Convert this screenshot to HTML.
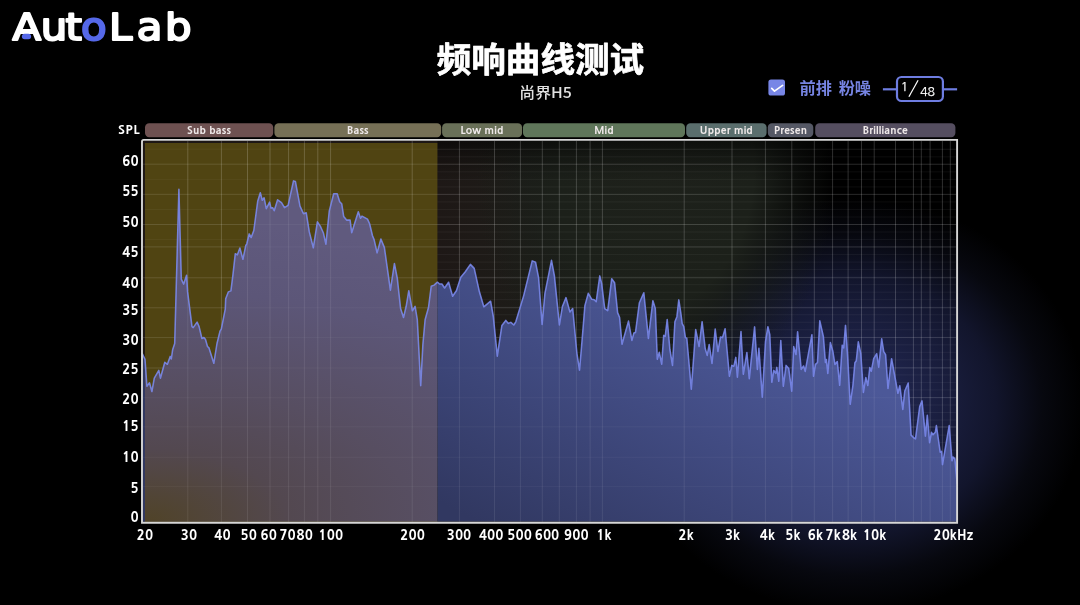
<!DOCTYPE html>
<html><head><meta charset="utf-8"><style>
html,body{margin:0;padding:0;}
body{width:1080px;height:605px;overflow:hidden;background:#000;position:relative;font-family:"Liberation Sans","Noto Sans CJK SC",sans-serif;}
svg{position:absolute;left:0;top:0;}
</style></head><body>
<svg width="1080" height="605" viewBox="0 0 1080 605">
<defs>
<radialGradient id="glow" cx="0" cy="0" r="1" gradientUnits="userSpaceOnUse" gradientTransform="translate(852 405) scale(232 208)">
<stop offset="0" stop-color="#242a5a"/>
<stop offset="0.45" stop-color="#181c3a"/>
<stop offset="0.62" stop-color="#12152c"/>
<stop offset="0.82" stop-color="#07080f"/>
<stop offset="1" stop-color="#000"/>
</radialGradient>
<linearGradient id="bgg" x1="437" y1="0" x2="957" y2="0" gradientUnits="userSpaceOnUse">
<stop offset="0" stop-color="#1e1816" stop-opacity="1"/>
<stop offset="0.3" stop-color="#1d1f1a" stop-opacity="1"/>
<stop offset="0.4" stop-color="#1e211b" stop-opacity="0.9"/>
<stop offset="0.5" stop-color="#1e211b" stop-opacity="0.3"/>
<stop offset="0.56" stop-color="#1e211b" stop-opacity="0"/>
</linearGradient>
<radialGradient id="greeng" cx="0" cy="0" r="1" gradientUnits="userSpaceOnUse" gradientTransform="translate(655 170) scale(180 245)">
<stop offset="0" stop-color="#1e211b" stop-opacity="1"/>
<stop offset="0.55" stop-color="#1c201a" stop-opacity="1"/>
<stop offset="0.8" stop-color="#1a1e19" stop-opacity="0.45"/>
<stop offset="1" stop-color="#1a1e19" stop-opacity="0"/>
</radialGradient>
<linearGradient id="topshade" x1="0" y1="141" x2="0" y2="182" gradientUnits="userSpaceOnUse">
<stop offset="0" stop-color="#000" stop-opacity="0.55"/>
<stop offset="0.35" stop-color="#000" stop-opacity="0.3"/>
<stop offset="1" stop-color="#000" stop-opacity="0"/>
</linearGradient>
<linearGradient id="blueg" x1="455" y1="510" x2="593" y2="243.6" gradientUnits="userSpaceOnUse">
<stop offset="0" stop-color="rgb(49,56,97)"/>
<stop offset="1" stop-color="rgb(76,88,152)"/>
</linearGradient>
<radialGradient id="mauveg" cx="0" cy="0" r="1" gradientUnits="userSpaceOnUse" gradientTransform="translate(145 521) scale(600 300)">
<stop offset="0" stop-color="rgb(80,67,40)"/>
<stop offset="0.24" stop-color="rgb(83,72,80)"/>
<stop offset="0.45" stop-color="rgb(87,78,97)"/>
<stop offset="0.77" stop-color="rgb(92,86,120)"/>
<stop offset="1" stop-color="rgb(96,90,126)"/>
</radialGradient>
<clipPath id="cl"><rect x="145" y="0" width="292.4" height="605"/></clipPath>
<clipPath id="cr"><rect x="0" y="0" width="145" height="605"/><rect x="437.4" y="0" width="700" height="605"/></clipPath>
</defs>
<rect x="0" y="0" width="1080" height="605" fill="url(#glow)"/>
<rect x="143" y="141" width="813.2" height="380.6" fill="url(#bgg)"/>
<rect x="437" y="141" width="519.2" height="380.6" fill="url(#greeng)"/>
<rect x="437.4" y="141" width="518.8" height="41" fill="url(#topshade)"/>
<rect x="145" y="143" width="292.4" height="378.6" fill="#504412"/>
<g stroke="#fff" stroke-opacity="0.05" stroke-width="1"><line x1="437.4" y1="149.3" x2="956.2" y2="149.3"/><line x1="437.4" y1="156.82" x2="956.2" y2="156.82"/><line x1="437.4" y1="164.34" x2="956.2" y2="164.34"/><line x1="437.4" y1="171.86" x2="956.2" y2="171.86"/><line x1="437.4" y1="179.38" x2="956.2" y2="179.38"/><line x1="437.4" y1="186.9" x2="956.2" y2="186.9"/><line x1="437.4" y1="194.42" x2="956.2" y2="194.42"/><line x1="437.4" y1="201.94" x2="956.2" y2="201.94"/><line x1="437.4" y1="209.46" x2="956.2" y2="209.46"/><line x1="437.4" y1="216.98" x2="956.2" y2="216.98"/><line x1="437.4" y1="224.5" x2="956.2" y2="224.5"/><line x1="437.4" y1="232.02" x2="956.2" y2="232.02"/><line x1="437.4" y1="239.54" x2="956.2" y2="239.54"/><line x1="437.4" y1="247.06" x2="956.2" y2="247.06"/><line x1="437.4" y1="254.58" x2="956.2" y2="254.58"/><line x1="437.4" y1="262.1" x2="956.2" y2="262.1"/><line x1="437.4" y1="269.62" x2="956.2" y2="269.62"/><line x1="437.4" y1="277.14" x2="956.2" y2="277.14"/><line x1="437.4" y1="284.66" x2="956.2" y2="284.66"/><line x1="437.4" y1="292.18" x2="956.2" y2="292.18"/><line x1="437.4" y1="299.7" x2="956.2" y2="299.7"/><line x1="437.4" y1="307.22" x2="956.2" y2="307.22"/><line x1="437.4" y1="314.74" x2="956.2" y2="314.74"/><line x1="437.4" y1="322.26" x2="956.2" y2="322.26"/><line x1="437.4" y1="329.78" x2="956.2" y2="329.78"/><line x1="437.4" y1="337.3" x2="956.2" y2="337.3"/><line x1="437.4" y1="344.82" x2="956.2" y2="344.82"/><line x1="437.4" y1="352.34" x2="956.2" y2="352.34"/><line x1="437.4" y1="359.86" x2="956.2" y2="359.86"/><line x1="437.4" y1="367.38" x2="956.2" y2="367.38"/><line x1="437.4" y1="374.9" x2="956.2" y2="374.9"/><line x1="437.4" y1="382.42" x2="956.2" y2="382.42"/><line x1="437.4" y1="389.94" x2="956.2" y2="389.94"/><line x1="437.4" y1="397.46" x2="956.2" y2="397.46"/><line x1="437.4" y1="404.98" x2="956.2" y2="404.98"/><line x1="437.4" y1="412.5" x2="956.2" y2="412.5"/><line x1="437.4" y1="420.02" x2="956.2" y2="420.02"/><line x1="437.4" y1="427.54" x2="956.2" y2="427.54"/><line x1="437.4" y1="435.06" x2="956.2" y2="435.06"/><line x1="437.4" y1="442.58" x2="956.2" y2="442.58"/><line x1="437.4" y1="450.1" x2="956.2" y2="450.1"/><line x1="437.4" y1="457.62" x2="956.2" y2="457.62"/><line x1="437.4" y1="465.14" x2="956.2" y2="465.14"/><line x1="437.4" y1="472.66" x2="956.2" y2="472.66"/><line x1="437.4" y1="480.18" x2="956.2" y2="480.18"/><line x1="437.4" y1="487.7" x2="956.2" y2="487.7"/><line x1="437.4" y1="495.22" x2="956.2" y2="495.22"/><line x1="437.4" y1="502.74" x2="956.2" y2="502.74"/><line x1="437.4" y1="510.26" x2="956.2" y2="510.26"/><line x1="437.4" y1="517.78" x2="956.2" y2="517.78"/></g>
<g stroke="#fff" stroke-opacity="0.04" stroke-width="1"><line x1="145" y1="149.2" x2="437.4" y2="149.2"/><line x1="145" y1="179.4" x2="437.4" y2="179.4"/><line x1="145" y1="209.5" x2="437.4" y2="209.5"/><line x1="145" y1="239.6" x2="437.4" y2="239.6"/></g><g stroke="#fff" stroke-opacity="0.05" stroke-width="1"><line x1="437.4" y1="149.2" x2="956.2" y2="149.2"/></g>
<g stroke="#fff" stroke-opacity="0.09" stroke-width="1"><line x1="143" y1="164.2" x2="956.2" y2="164.2"/><line x1="143" y1="194.3" x2="956.2" y2="194.3"/><line x1="143" y1="224.5" x2="956.2" y2="224.5"/><line x1="143" y1="246.9" x2="956.2" y2="246.9"/><line x1="143" y1="277.8" x2="956.2" y2="277.8"/><line x1="143" y1="307.8" x2="956.2" y2="307.8"/><line x1="143" y1="337.6" x2="956.2" y2="337.6"/><line x1="143" y1="368" x2="956.2" y2="368"/><line x1="143" y1="397.7" x2="956.2" y2="397.7"/><line x1="143" y1="426.8" x2="956.2" y2="426.8"/><line x1="143" y1="457.3" x2="956.2" y2="457.3"/><line x1="143" y1="486.6" x2="956.2" y2="486.6"/></g>
<g stroke="#fff" stroke-opacity="0.11" stroke-width="1"><line x1="187.8" y1="141" x2="187.8" y2="521.6"/><line x1="221.4" y1="141" x2="221.4" y2="521.6"/><line x1="247.5" y1="141" x2="247.5" y2="521.6"/><line x1="270" y1="141" x2="270" y2="521.6"/><line x1="288.6" y1="141" x2="288.6" y2="521.6"/><line x1="304.4" y1="141" x2="304.4" y2="521.6"/><line x1="317.8" y1="141" x2="317.8" y2="521.6"/><line x1="330.6" y1="141" x2="330.6" y2="521.6"/><line x1="412.2" y1="141" x2="412.2" y2="521.6"/><line x1="459.4" y1="141" x2="459.4" y2="521.6"/><line x1="494.5" y1="141" x2="494.5" y2="521.6"/><line x1="520.4" y1="141" x2="520.4" y2="521.6"/><line x1="542.3" y1="141" x2="542.3" y2="521.6"/><line x1="559.3" y1="141" x2="559.3" y2="521.6"/><line x1="576.4" y1="141" x2="576.4" y2="521.6"/><line x1="590.1" y1="141" x2="590.1" y2="521.6"/><line x1="602.4" y1="141" x2="602.4" y2="521.6"/><line x1="684.2" y1="141" x2="684.2" y2="521.6"/><line x1="732" y1="141" x2="732" y2="521.6"/><line x1="765.4" y1="141" x2="765.4" y2="521.6"/><line x1="791.8" y1="141" x2="791.8" y2="521.6"/><line x1="814.3" y1="141" x2="814.3" y2="521.6"/><line x1="832.6" y1="141" x2="832.6" y2="521.6"/><line x1="848.1" y1="141" x2="848.1" y2="521.6"/><line x1="861.5" y1="141" x2="861.5" y2="521.6"/><line x1="874.2" y1="141" x2="874.2" y2="521.6"/><line x1="895.5" y1="141" x2="895.5" y2="521.6"/><line x1="913.4" y1="141" x2="913.4" y2="521.6"/><line x1="921.3" y1="141" x2="921.3" y2="521.6"/><line x1="930.1" y1="141" x2="930.1" y2="521.6"/><line x1="942.4" y1="141" x2="942.4" y2="521.6"/><line x1="950.3" y1="141" x2="950.3" y2="521.6"/></g>
<polygon points="142,353 145,359.4 146.9,386.2 149.5,382.8 151.9,391.5 154.3,378.2 158.8,370.3 160.4,378.2 164.8,362.3 167.4,364.3 170.2,356.4 171.3,359 172.7,349.4 174.7,343.5 178.9,189.3 181.3,279.2 183.7,284.1 186.6,275.2 187.6,291.9 192,326.6 193.2,327.6 197.1,322.1 199.1,326.6 201.9,338.5 203.9,337.5 205.5,339.5 207.5,346.5 209,347.9 213.8,363.3 217,343.5 220,331.2 221.3,329.2 225.3,308.8 225.7,298.8 228.3,291.9 230.9,290.9 232.9,275.2 235.3,253.7 237.3,254.9 239.9,248 242.9,259.3 245.8,245.4 246.8,243.8 249.2,233.9 251.2,237.5 253.8,230.5 257.7,201.3 260.3,192.8 262.3,200.2 264.1,197.8 266.3,208.7 269.6,202.1 271,208.1 272.6,207.7 274.2,210.7 277.6,199.8 281.5,202.7 284.5,207.7 288.1,205.3 293.5,180.9 295.4,181.5 300,206.1 303.5,213.7 306.2,212.7 309.3,231.9 313.3,247.8 317.4,221.8 320.6,226.7 323.3,232.7 325.9,244.2 329.3,210.9 333.7,193.8 337.2,193.8 339.7,201.7 341.7,203.7 343.7,216.6 346.6,220.1 350.1,220.1 351.7,232.7 358.3,211.7 360.5,218.3 362,216.1 367.5,219.1 369.6,223.8 372.5,235.7 374.1,239.6 377.1,252.9 380.9,239 384.4,247.6 390.4,290.2 394.4,263.5 397.3,278.3 400.6,308.6 403.5,317.5 406.2,306.3 408.8,290.7 412.4,310.8 415.1,306.3 417.3,319.7 420.7,385.6 422.9,344.3 425.1,319.7 428.5,307.5 431.2,286.3 434.1,285.1 437.4,282.2 439.6,284 441.9,284 444.6,288 448.6,282.2 452.6,296.3 456.4,290.7 460.8,277.3 465.3,271.7 470.4,264.4 474.2,268.4 479.4,291.8 483.8,306.8 490.6,301.2 493.3,316.5 497.3,356.2 501.9,325.4 505.8,320.4 508.4,323.4 510.8,322.4 513.8,325 515.8,321.8 523.7,295.6 532.2,260.9 535.6,262.3 538.6,277.8 542.1,324.4 544.9,293.7 551.5,260.3 554.4,275.8 559.4,325 562.4,306.5 566,297.6 569.9,311.9 572.7,308.5 576.9,353.3 579.5,370.1 581.5,347.3 584.9,305.6 588.3,293.3 591.8,299.3 594.2,299.7 596.2,301.7 599.8,275.9 601.7,283.8 604.7,308.6 607.7,310.6 611.7,278.8 614.6,282.8 617.6,312.6 619.6,317.5 622,344.3 628.5,321.1 631.9,340.4 633.9,333 635.5,332.4 639.4,302.7 643.8,292.7 648.4,338.4 652.9,300.7 655.3,308.6 657.3,359.2 659.3,352.3 661.7,364.2 663.7,335.4 665.2,336.4 667.2,319.5 669.9,349.5 672.5,365.4 674.9,321.7 676.9,316.7 678.8,299.9 680.8,312.8 682.2,323.7 683.8,326.7 685.4,337.6 686.8,338.2 691.3,389.2 695.7,329.6 699.1,346.5 702.1,321.7 705.2,348.5 707.2,355.4 709.2,344.5 712,363.4 715.2,329 717.9,351.5 720.5,337 722.5,337.6 725.1,328.7 729.4,376.3 731.8,365.4 733.8,366.3 735.8,357.4 737.4,377.3 741,331.6 743.3,374.3 746.9,352.5 749.3,378.7 754.6,326.9 757.4,369.4 758.9,348.2 762.3,397.2 765.5,341.6 767.9,326.7 769.8,334.7 771.8,382.3 773.8,370.4 775.8,373.4 776.8,367.4 778.8,381.3 780.8,340.6 783.3,386.3 786.1,365.4 788.7,368.4 791.7,391.2 793.7,346.6 796,354.5 797.6,331.7 801.2,369.4 803.6,366 805.2,371.4 811.9,334.7 813.5,376.3 815.5,364.4 817.5,362.5 819.8,320.8 823.4,336.7 825.4,362.5 826.4,359.5 827.8,373.4 830.4,342.6 832.9,351.5 834.9,364.4 837.3,361.5 839.7,385.3 842.2,345.2 843.7,348 845.5,325.4 847.6,355.6 850.2,404.3 852.9,385.5 854.9,362.7 856.3,360.7 858.3,341.8 860.8,353.7 863.4,392.4 865.8,377.5 867.8,385.5 869.8,367.6 871.3,371.2 873.7,358.7 876.7,353.7 878.7,367.2 881.7,338.8 883.7,351.7 885.6,354.7 888,388.5 891.6,358.7 895.2,378.5 897.9,393.3 899.8,385.7 902.8,409.4 904.8,391 908.2,383 911.1,435.1 914,438 915.5,438.9 919.7,406.6 922,400.9 925.4,436.1 927.3,415.2 929.6,442.7 931.5,432.3 933,434.8 935.3,432.3 936.4,425.6 940.2,452.2 941.6,451.3 942.5,464.6 949.2,425.6 952,460.8 953,457 954.9,458.9 957.2,484 957.2,521.6 142,521.6" fill="url(#mauveg)" clip-path="url(#cl)"/>
<polygon points="142,353 145,359.4 146.9,386.2 149.5,382.8 151.9,391.5 154.3,378.2 158.8,370.3 160.4,378.2 164.8,362.3 167.4,364.3 170.2,356.4 171.3,359 172.7,349.4 174.7,343.5 178.9,189.3 181.3,279.2 183.7,284.1 186.6,275.2 187.6,291.9 192,326.6 193.2,327.6 197.1,322.1 199.1,326.6 201.9,338.5 203.9,337.5 205.5,339.5 207.5,346.5 209,347.9 213.8,363.3 217,343.5 220,331.2 221.3,329.2 225.3,308.8 225.7,298.8 228.3,291.9 230.9,290.9 232.9,275.2 235.3,253.7 237.3,254.9 239.9,248 242.9,259.3 245.8,245.4 246.8,243.8 249.2,233.9 251.2,237.5 253.8,230.5 257.7,201.3 260.3,192.8 262.3,200.2 264.1,197.8 266.3,208.7 269.6,202.1 271,208.1 272.6,207.7 274.2,210.7 277.6,199.8 281.5,202.7 284.5,207.7 288.1,205.3 293.5,180.9 295.4,181.5 300,206.1 303.5,213.7 306.2,212.7 309.3,231.9 313.3,247.8 317.4,221.8 320.6,226.7 323.3,232.7 325.9,244.2 329.3,210.9 333.7,193.8 337.2,193.8 339.7,201.7 341.7,203.7 343.7,216.6 346.6,220.1 350.1,220.1 351.7,232.7 358.3,211.7 360.5,218.3 362,216.1 367.5,219.1 369.6,223.8 372.5,235.7 374.1,239.6 377.1,252.9 380.9,239 384.4,247.6 390.4,290.2 394.4,263.5 397.3,278.3 400.6,308.6 403.5,317.5 406.2,306.3 408.8,290.7 412.4,310.8 415.1,306.3 417.3,319.7 420.7,385.6 422.9,344.3 425.1,319.7 428.5,307.5 431.2,286.3 434.1,285.1 437.4,282.2 439.6,284 441.9,284 444.6,288 448.6,282.2 452.6,296.3 456.4,290.7 460.8,277.3 465.3,271.7 470.4,264.4 474.2,268.4 479.4,291.8 483.8,306.8 490.6,301.2 493.3,316.5 497.3,356.2 501.9,325.4 505.8,320.4 508.4,323.4 510.8,322.4 513.8,325 515.8,321.8 523.7,295.6 532.2,260.9 535.6,262.3 538.6,277.8 542.1,324.4 544.9,293.7 551.5,260.3 554.4,275.8 559.4,325 562.4,306.5 566,297.6 569.9,311.9 572.7,308.5 576.9,353.3 579.5,370.1 581.5,347.3 584.9,305.6 588.3,293.3 591.8,299.3 594.2,299.7 596.2,301.7 599.8,275.9 601.7,283.8 604.7,308.6 607.7,310.6 611.7,278.8 614.6,282.8 617.6,312.6 619.6,317.5 622,344.3 628.5,321.1 631.9,340.4 633.9,333 635.5,332.4 639.4,302.7 643.8,292.7 648.4,338.4 652.9,300.7 655.3,308.6 657.3,359.2 659.3,352.3 661.7,364.2 663.7,335.4 665.2,336.4 667.2,319.5 669.9,349.5 672.5,365.4 674.9,321.7 676.9,316.7 678.8,299.9 680.8,312.8 682.2,323.7 683.8,326.7 685.4,337.6 686.8,338.2 691.3,389.2 695.7,329.6 699.1,346.5 702.1,321.7 705.2,348.5 707.2,355.4 709.2,344.5 712,363.4 715.2,329 717.9,351.5 720.5,337 722.5,337.6 725.1,328.7 729.4,376.3 731.8,365.4 733.8,366.3 735.8,357.4 737.4,377.3 741,331.6 743.3,374.3 746.9,352.5 749.3,378.7 754.6,326.9 757.4,369.4 758.9,348.2 762.3,397.2 765.5,341.6 767.9,326.7 769.8,334.7 771.8,382.3 773.8,370.4 775.8,373.4 776.8,367.4 778.8,381.3 780.8,340.6 783.3,386.3 786.1,365.4 788.7,368.4 791.7,391.2 793.7,346.6 796,354.5 797.6,331.7 801.2,369.4 803.6,366 805.2,371.4 811.9,334.7 813.5,376.3 815.5,364.4 817.5,362.5 819.8,320.8 823.4,336.7 825.4,362.5 826.4,359.5 827.8,373.4 830.4,342.6 832.9,351.5 834.9,364.4 837.3,361.5 839.7,385.3 842.2,345.2 843.7,348 845.5,325.4 847.6,355.6 850.2,404.3 852.9,385.5 854.9,362.7 856.3,360.7 858.3,341.8 860.8,353.7 863.4,392.4 865.8,377.5 867.8,385.5 869.8,367.6 871.3,371.2 873.7,358.7 876.7,353.7 878.7,367.2 881.7,338.8 883.7,351.7 885.6,354.7 888,388.5 891.6,358.7 895.2,378.5 897.9,393.3 899.8,385.7 902.8,409.4 904.8,391 908.2,383 911.1,435.1 914,438 915.5,438.9 919.7,406.6 922,400.9 925.4,436.1 927.3,415.2 929.6,442.7 931.5,432.3 933,434.8 935.3,432.3 936.4,425.6 940.2,452.2 941.6,451.3 942.5,464.6 949.2,425.6 952,460.8 953,457 954.9,458.9 957.2,484 957.2,521.6 142,521.6" fill="url(#blueg)" clip-path="url(#cr)"/>
<g stroke="#fff" stroke-opacity="0.045" stroke-width="1"><line x1="143" y1="164.2" x2="956.2" y2="164.2"/><line x1="143" y1="194.3" x2="956.2" y2="194.3"/><line x1="143" y1="224.5" x2="956.2" y2="224.5"/><line x1="143" y1="246.9" x2="956.2" y2="246.9"/><line x1="143" y1="277.8" x2="956.2" y2="277.8"/><line x1="143" y1="307.8" x2="956.2" y2="307.8"/><line x1="143" y1="337.6" x2="956.2" y2="337.6"/><line x1="143" y1="368" x2="956.2" y2="368"/><line x1="143" y1="397.7" x2="956.2" y2="397.7"/><line x1="143" y1="426.8" x2="956.2" y2="426.8"/><line x1="143" y1="457.3" x2="956.2" y2="457.3"/><line x1="143" y1="486.6" x2="956.2" y2="486.6"/></g>
<g stroke="#fff" stroke-opacity="0.085" stroke-width="1"><line x1="187.8" y1="141" x2="187.8" y2="521.6"/><line x1="221.4" y1="141" x2="221.4" y2="521.6"/><line x1="247.5" y1="141" x2="247.5" y2="521.6"/><line x1="270" y1="141" x2="270" y2="521.6"/><line x1="288.6" y1="141" x2="288.6" y2="521.6"/><line x1="304.4" y1="141" x2="304.4" y2="521.6"/><line x1="317.8" y1="141" x2="317.8" y2="521.6"/><line x1="330.6" y1="141" x2="330.6" y2="521.6"/><line x1="412.2" y1="141" x2="412.2" y2="521.6"/><line x1="459.4" y1="141" x2="459.4" y2="521.6"/><line x1="494.5" y1="141" x2="494.5" y2="521.6"/><line x1="520.4" y1="141" x2="520.4" y2="521.6"/><line x1="542.3" y1="141" x2="542.3" y2="521.6"/><line x1="559.3" y1="141" x2="559.3" y2="521.6"/><line x1="576.4" y1="141" x2="576.4" y2="521.6"/><line x1="590.1" y1="141" x2="590.1" y2="521.6"/><line x1="602.4" y1="141" x2="602.4" y2="521.6"/><line x1="684.2" y1="141" x2="684.2" y2="521.6"/><line x1="732" y1="141" x2="732" y2="521.6"/><line x1="765.4" y1="141" x2="765.4" y2="521.6"/><line x1="791.8" y1="141" x2="791.8" y2="521.6"/><line x1="814.3" y1="141" x2="814.3" y2="521.6"/><line x1="832.6" y1="141" x2="832.6" y2="521.6"/><line x1="848.1" y1="141" x2="848.1" y2="521.6"/><line x1="861.5" y1="141" x2="861.5" y2="521.6"/><line x1="874.2" y1="141" x2="874.2" y2="521.6"/><line x1="895.5" y1="141" x2="895.5" y2="521.6"/><line x1="913.4" y1="141" x2="913.4" y2="521.6"/><line x1="921.3" y1="141" x2="921.3" y2="521.6"/><line x1="930.1" y1="141" x2="930.1" y2="521.6"/><line x1="942.4" y1="141" x2="942.4" y2="521.6"/><line x1="950.3" y1="141" x2="950.3" y2="521.6"/></g>
<polyline points="142,353 145,359.4 146.9,386.2 149.5,382.8 151.9,391.5 154.3,378.2 158.8,370.3 160.4,378.2 164.8,362.3 167.4,364.3 170.2,356.4 171.3,359 172.7,349.4 174.7,343.5 178.9,189.3 181.3,279.2 183.7,284.1 186.6,275.2 187.6,291.9 192,326.6 193.2,327.6 197.1,322.1 199.1,326.6 201.9,338.5 203.9,337.5 205.5,339.5 207.5,346.5 209,347.9 213.8,363.3 217,343.5 220,331.2 221.3,329.2 225.3,308.8 225.7,298.8 228.3,291.9 230.9,290.9 232.9,275.2 235.3,253.7 237.3,254.9 239.9,248 242.9,259.3 245.8,245.4 246.8,243.8 249.2,233.9 251.2,237.5 253.8,230.5 257.7,201.3 260.3,192.8 262.3,200.2 264.1,197.8 266.3,208.7 269.6,202.1 271,208.1 272.6,207.7 274.2,210.7 277.6,199.8 281.5,202.7 284.5,207.7 288.1,205.3 293.5,180.9 295.4,181.5 300,206.1 303.5,213.7 306.2,212.7 309.3,231.9 313.3,247.8 317.4,221.8 320.6,226.7 323.3,232.7 325.9,244.2 329.3,210.9 333.7,193.8 337.2,193.8 339.7,201.7 341.7,203.7 343.7,216.6 346.6,220.1 350.1,220.1 351.7,232.7 358.3,211.7 360.5,218.3 362,216.1 367.5,219.1 369.6,223.8 372.5,235.7 374.1,239.6 377.1,252.9 380.9,239 384.4,247.6 390.4,290.2 394.4,263.5 397.3,278.3 400.6,308.6 403.5,317.5 406.2,306.3 408.8,290.7 412.4,310.8 415.1,306.3 417.3,319.7 420.7,385.6 422.9,344.3 425.1,319.7 428.5,307.5 431.2,286.3 434.1,285.1 437.4,282.2 439.6,284 441.9,284 444.6,288 448.6,282.2 452.6,296.3 456.4,290.7 460.8,277.3 465.3,271.7 470.4,264.4 474.2,268.4 479.4,291.8 483.8,306.8 490.6,301.2 493.3,316.5 497.3,356.2 501.9,325.4 505.8,320.4 508.4,323.4 510.8,322.4 513.8,325 515.8,321.8 523.7,295.6 532.2,260.9 535.6,262.3 538.6,277.8 542.1,324.4 544.9,293.7 551.5,260.3 554.4,275.8 559.4,325 562.4,306.5 566,297.6 569.9,311.9 572.7,308.5 576.9,353.3 579.5,370.1 581.5,347.3 584.9,305.6 588.3,293.3 591.8,299.3 594.2,299.7 596.2,301.7 599.8,275.9 601.7,283.8 604.7,308.6 607.7,310.6 611.7,278.8 614.6,282.8 617.6,312.6 619.6,317.5 622,344.3 628.5,321.1 631.9,340.4 633.9,333 635.5,332.4 639.4,302.7 643.8,292.7 648.4,338.4 652.9,300.7 655.3,308.6 657.3,359.2 659.3,352.3 661.7,364.2 663.7,335.4 665.2,336.4 667.2,319.5 669.9,349.5 672.5,365.4 674.9,321.7 676.9,316.7 678.8,299.9 680.8,312.8 682.2,323.7 683.8,326.7 685.4,337.6 686.8,338.2 691.3,389.2 695.7,329.6 699.1,346.5 702.1,321.7 705.2,348.5 707.2,355.4 709.2,344.5 712,363.4 715.2,329 717.9,351.5 720.5,337 722.5,337.6 725.1,328.7 729.4,376.3 731.8,365.4 733.8,366.3 735.8,357.4 737.4,377.3 741,331.6 743.3,374.3 746.9,352.5 749.3,378.7 754.6,326.9 757.4,369.4 758.9,348.2 762.3,397.2 765.5,341.6 767.9,326.7 769.8,334.7 771.8,382.3 773.8,370.4 775.8,373.4 776.8,367.4 778.8,381.3 780.8,340.6 783.3,386.3 786.1,365.4 788.7,368.4 791.7,391.2 793.7,346.6 796,354.5 797.6,331.7 801.2,369.4 803.6,366 805.2,371.4 811.9,334.7 813.5,376.3 815.5,364.4 817.5,362.5 819.8,320.8 823.4,336.7 825.4,362.5 826.4,359.5 827.8,373.4 830.4,342.6 832.9,351.5 834.9,364.4 837.3,361.5 839.7,385.3 842.2,345.2 843.7,348 845.5,325.4 847.6,355.6 850.2,404.3 852.9,385.5 854.9,362.7 856.3,360.7 858.3,341.8 860.8,353.7 863.4,392.4 865.8,377.5 867.8,385.5 869.8,367.6 871.3,371.2 873.7,358.7 876.7,353.7 878.7,367.2 881.7,338.8 883.7,351.7 885.6,354.7 888,388.5 891.6,358.7 895.2,378.5 897.9,393.3 899.8,385.7 902.8,409.4 904.8,391 908.2,383 911.1,435.1 914,438 915.5,438.9 919.7,406.6 922,400.9 925.4,436.1 927.3,415.2 929.6,442.7 931.5,432.3 933,434.8 935.3,432.3 936.4,425.6 940.2,452.2 941.6,451.3 942.5,464.6 949.2,425.6 952,460.8 953,457 954.9,458.9 957.2,484" fill="none" stroke="#7b8aee" stroke-opacity="0.88" stroke-width="1.55" stroke-linejoin="round"/>
<path d="M142 522.7 V141.6 Q142 139.85 143.7 139.85 H957.1 V522.7 Z" fill="none" stroke="#d6d6d6" stroke-width="1.9"/>
<g font-family="NanumGothic, sans-serif" font-weight="800" font-size="10.5" letter-spacing="0.2" fill="#eee8e8"><rect x="145" y="123.3" width="128.2" height="13.9" rx="4.2" fill="#6e5151"/><text x="209.1" y="134.3" text-anchor="middle">Sub bass</text><rect x="274.4" y="123.3" width="166.8" height="13.9" rx="4.2" fill="#767056"/><text x="357.8" y="134.3" text-anchor="middle">Bass</text><rect x="442.1" y="123.3" width="80" height="13.9" rx="4.2" fill="#697058"/><text x="482.1" y="134.3" text-anchor="middle">Low mid</text><rect x="523" y="123.3" width="162" height="13.9" rx="4.2" fill="#5f765a"/><text x="604" y="134.3" text-anchor="middle">Mid</text><rect x="686.2" y="123.3" width="80.4" height="13.9" rx="4.2" fill="#5a6e6d"/><text x="726.4" y="134.3" text-anchor="middle">Upper mid</text><rect x="767.8" y="123.3" width="45.5" height="13.9" rx="4.2" fill="#555865"/><text x="790.55" y="134.3" text-anchor="middle">Presen</text><rect x="815.2" y="123.3" width="140.2" height="13.9" rx="4.2" fill="#554e60"/><text x="885.3" y="134.3" text-anchor="middle">Brilliance</text></g>
<g font-family="NanumGothic, sans-serif" font-weight="800" font-size="13.1" letter-spacing="0.25" fill="#fff"><text x="138.6" y="166" text-anchor="end">60</text><text x="138.6" y="195.7" text-anchor="end">55</text><text x="138.6" y="227" text-anchor="end">50</text><text x="138.6" y="256.9" text-anchor="end">45</text><text x="138.6" y="287.8" text-anchor="end">40</text><text x="138.6" y="315.2" text-anchor="end">35</text><text x="138.6" y="344.5" text-anchor="end">30</text><text x="138.6" y="373.7" text-anchor="end">25</text><text x="138.6" y="403.9" text-anchor="end">20</text><text x="138.6" y="431.4" text-anchor="end">15</text><text x="138.6" y="461.9" text-anchor="end">10</text><text x="138.6" y="493" text-anchor="end">5</text><text x="138.6" y="521.8" text-anchor="end">0</text><text x="144.9" y="539.8" text-anchor="middle">20</text><text x="189" y="539.8" text-anchor="middle">30</text><text x="222.5" y="539.8" text-anchor="middle">40</text><text x="248.7" y="539.8" text-anchor="middle">50</text><text x="268.8" y="539.8" text-anchor="middle">60</text><text x="287.6" y="539.8" text-anchor="middle">70</text><text x="304.8" y="539.8" text-anchor="middle">80</text><text x="330.8" y="539.8" text-anchor="middle">100</text><text x="412.6" y="539.8" text-anchor="middle">200</text><text x="459" y="539.8" text-anchor="middle">300</text><text x="491.2" y="539.8" text-anchor="middle">400</text><text x="519.6" y="539.8" text-anchor="middle">500</text><text x="547" y="539.8" text-anchor="middle">600</text><text x="576.3" y="539.8" text-anchor="middle">900</text><text x="604" y="539.8" text-anchor="middle">1k</text><text x="686.1" y="539.8" text-anchor="middle">2k</text><text x="732.5" y="539.8" text-anchor="middle">3k</text><text x="767.4" y="539.8" text-anchor="middle">4k</text><text x="792.9" y="539.8" text-anchor="middle">5k</text><text x="815.4" y="539.8" text-anchor="middle">6k</text><text x="833.2" y="539.8" text-anchor="middle">7k</text><text x="849.5" y="539.8" text-anchor="middle">8k</text><text x="874.6" y="539.8" text-anchor="middle">10k</text><text x="953.4" y="539.8" text-anchor="middle">20kHz</text>
<text x="129.2" y="133.7" text-anchor="middle" font-size="12.6" letter-spacing="0.7">SPL</text></g>
<!-- logo -->
<linearGradient id="logog" x1="0" y1="0" x2="200" y2="0" gradientUnits="userSpaceOnUse">
<stop offset="0" stop-color="#fff"/><stop offset="0.373" stop-color="#fff"/><stop offset="0.373" stop-color="#5568e8"/><stop offset="0.495" stop-color="#5568e8"/><stop offset="0.495" stop-color="#fff"/><stop offset="1" stop-color="#fff"/>
</linearGradient>
<text transform="translate(0 39.6) scale(1.1 1)" x="11.28 37.03 59.55 73.69 99.21 124.3 150.1" y="0" font-family="DejaVu Sans, sans-serif" font-weight="400" font-size="38" fill="url(#logog)" stroke="url(#logog)" stroke-width="2.1" stroke-linejoin="round">AutoLab</text>
<rect x="21.9" y="33.8" width="9.2" height="5.5" rx="2.75" fill="#5568e8"/>
<!-- title -->
<text x="540.4" y="71.5" text-anchor="middle" font-family="Noto Sans CJK SC, sans-serif" font-weight="700" font-size="34.6" fill="#fff" stroke="#fff" stroke-width="0.7" stroke-linejoin="round">频响曲线测试</text>
<text x="0" y="0" transform="translate(545.6 98.1) scale(1.02 0.93)" text-anchor="middle" font-family="Noto Sans CJK SC, sans-serif" font-weight="500" font-size="15.6" fill="#e2e2e2">尚界H5</text>
<!-- checkbox & label -->
<rect x="768.4" y="79.4" width="16.6" height="16.1" rx="2.6" fill="#7886e6"/>
<path d="M771.7 88.3 L774.5 91.1 L782.6 85.4" fill="none" stroke="#fff" stroke-width="1.7" stroke-linecap="round" stroke-linejoin="round"/>
<text x="799.6" y="94" font-family="Noto Sans CJK SC, sans-serif" font-weight="700" font-size="16.2" fill="#7684e2" word-spacing="3">前排 粉噪</text>
<!-- stepper -->
<g stroke="#6e7de1" fill="none" stroke-width="2.2">
<line x1="882.9" y1="89.3" x2="897" y2="89.3"/>
<rect x="897" y="77" width="45.9" height="24" rx="4.5"/>
<line x1="942.9" y1="89.3" x2="957.1" y2="89.3"/>
</g>
<line x1="908.9" y1="96.8" x2="918.1" y2="80.3" stroke="#fff" stroke-width="1.2"/>
<g font-family="NanumGothic, sans-serif" font-size="12.3" fill="#fff" stroke="#fff" stroke-width="0.25">
<text x="904.4" y="90.6" text-anchor="middle">1</text>
<text x="927.6" y="96.2" text-anchor="middle">48</text>
</g>
</svg>
</body></html>
